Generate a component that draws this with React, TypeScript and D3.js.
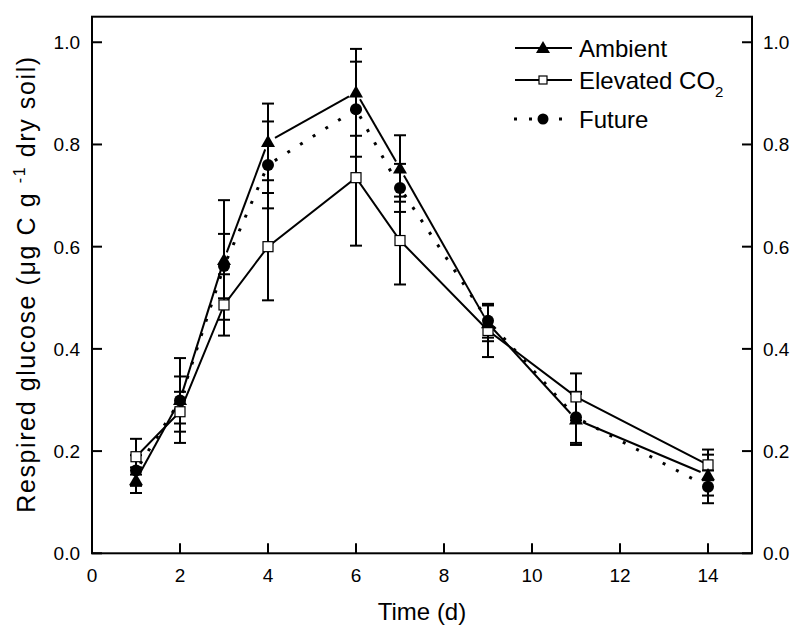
import React from "react";
import * as d3 from "d3";

const days = [1, 2, 3, 4, 6, 7, 9, 11, 14];
const ambient = [0.143, 0.3, 0.574, 0.805, 0.902, 0.753, 0.45, 0.262, 0.153];
const ambientErr = [0.025, 0.046, 0.117, 0.075, 0.085, 0.065, 0.035, 0.05, 0.04];
const elevated = [0.189, 0.277, 0.486, 0.6, 0.735, 0.612, 0.436, 0.306, 0.173];
const elevatedErr = [0.035, 0.039, 0.06, 0.105, 0.133, 0.086, 0.052, 0.046, 0.03];
const future = [0.162, 0.299, 0.562, 0.76, 0.869, 0.715, 0.455, 0.266, 0.13];
const futureErr = [0.03, 0.083, 0.063, 0.085, 0.093, 0.047, 0.033, 0.05, 0.032];
const xTicks = [0, 2, 4, 6, 8, 10, 12, 14];
const yTicks = [0, 0.2, 0.4, 0.6, 0.8, 1.0];

const W = 795;
const H = 626;
const L = 92, R = 752, T = 16.7, B = 553.3;
const FONT = "'Liberation Sans', Arial, sans-serif";

const x = d3.scaleLinear().domain([0, 15]).range([L, R]);
const y = d3.scaleLinear().domain([0, 1.05]).range([B, T]);

function segments(vals: number[], gap: number) {
  const pts = days.map((d, i) => [x(d), y(vals[i])]);
  const segs: string[] = [];
  for (let i = 0; i < pts.length - 1; i++) {
    const [x1, y1] = pts[i];
    const [x2, y2] = pts[i + 1];
    const len = Math.hypot(x2 - x1, y2 - y1);
    const ux = (x2 - x1) / len, uy = (y2 - y1) / len;
    const p = d3.path();
    p.moveTo(x1 + ux * gap, y1 + uy * gap);
    p.lineTo(x2 - ux * gap, y2 - uy * gap);
    segs.push(p.toString());
  }
  return segs;
}

const tri = d3.symbol().type(d3.symbolTriangle).size(85)();

function Triangle({ cx, cy }: { cx: number; cy: number }) {
  return <path d={tri as string} transform={`translate(${cx},${cy + 1})`} fill="#000" />;
}
function Square({ cx, cy }: { cx: number; cy: number }) {
  return <rect x={cx - 5} y={cy - 5} width={10} height={10} fill="#fff" stroke="#000" strokeWidth={1.2} />;
}
function Dot({ cx, cy }: { cx: number; cy: number }) {
  return <circle cx={cx} cy={cy} r={6} fill="#000" />;
}

function ErrBars({ vals, errs }: { vals: number[]; errs: number[] }) {
  return (
    <g stroke="#000" strokeWidth={2}>
      {days.map((d, i) => {
        const cx = x(d);
        const y1 = y(vals[i] + errs[i]);
        const y2 = y(vals[i] - errs[i]);
        return (
          <g key={i}>
            <line x1={cx} x2={cx} y1={y1} y2={y2} />
            <line x1={cx - 6} x2={cx + 6} y1={y1} y2={y1} />
            <line x1={cx - 6} x2={cx + 6} y1={y2} y2={y2} />
          </g>
        );
      })}
    </g>
  );
}

export default function App() {
  const ambSegs = segments(ambient, 8);
  const futSegs = segments(future, 8);
  const elevLine = d3.line<number>().x((_, i) => x(days[i])).y((v) => y(v))(elevated) as string;
  return (
    <svg width={W} height={H} style={{ position: "absolute", left: 0, top: 0, background: "#fff" }} fontFamily={FONT}>
      <rect x={0} y={0} width={W} height={H} fill="#fff" />
      {/* frame */}
      <rect x={L} y={T} width={R - L} height={B - T} fill="none" stroke="#000" strokeWidth={2} />
      {/* x ticks */}
      {xTicks.map((t) => (
        <g key={t}>
          <line x1={x(t)} x2={x(t)} y1={B} y2={B - 10} stroke="#000" strokeWidth={2} />
          <text x={x(t)} y={582} fontSize={19} textAnchor="middle">{t}</text>
        </g>
      ))}
      {/* y ticks */}
      {yTicks.map((t) => (
        <g key={t}>
          <line x1={L} x2={L + 10} y1={y(t)} y2={y(t)} stroke="#000" strokeWidth={2} />
          <line x1={R} x2={R - 10} y1={y(t)} y2={y(t)} stroke="#000" strokeWidth={2} />
          <text x={80} y={y(t) + 7} fontSize={19} textAnchor="end">{t.toFixed(1)}</text>
          <text x={763} y={y(t) + 7} fontSize={19} textAnchor="start">{t.toFixed(1)}</text>
        </g>
      ))}
      {/* axis titles */}
      <text x={422} y={620} fontSize={24} textAnchor="middle">Time (d)</text>
      <text transform={`translate(35,284) rotate(-90)`} fontSize={25} letterSpacing={1.6} textAnchor="middle">
        Respired glucose (μg C g <tspan fontSize={16} dy={-10}>-1</tspan><tspan dy={10}>  dry soil)</tspan>
      </text>
      {/* lines */}
      <g stroke="#000" strokeWidth={2} fill="none">
        <path d={elevLine} />
        {ambSegs.map((s, i) => <path key={"a" + i} d={s} />)}
        {futSegs.map((s, i) => <path key={"f" + i} d={s} strokeDasharray="3 12" strokeLinecap="butt" strokeWidth={3} />)}
      </g>
      {/* error bars */}
      <ErrBars vals={elevated} errs={elevatedErr} />
      <ErrBars vals={ambient} errs={ambientErr} />
      <ErrBars vals={future} errs={futureErr} />
      {/* markers */}
      {days.map((d, i) => <Square key={"s" + i} cx={x(d)} cy={y(elevated[i])} />)}
      {days.map((d, i) => <Dot key={"c" + i} cx={x(d)} cy={y(future[i])} />)}
      {days.map((d, i) => <Triangle key={"t" + i} cx={x(d)} cy={y(ambient[i])} />)}
      {/* legend */}
      <g stroke="#000" strokeWidth={2}>
        <line x1={515} x2={572} y1={48} y2={48} />
        <line x1={515} x2={572} y1={80} y2={80} />
        <line x1={514} x2={572} y1={119} y2={119} strokeDasharray="3 12" strokeWidth={3} />
      </g>
      <path d={tri as string} transform="translate(543,49)" fill="#000" />
      <rect x={539} y={76} width={8} height={8} fill="#fff" stroke="#000" strokeWidth={1.2} />
      <circle cx={543} cy={119} r={5.5} fill="#000" />
      <text x={579} y={56.5} fontSize={24}>Ambient</text>
      <text x={579} y={88.5} fontSize={24}>Elevated CO<tspan fontSize={15} dy={8}>2</tspan></text>
      <text x={579} y={127.5} fontSize={24}>Future</text>
    </svg>
  );
}
